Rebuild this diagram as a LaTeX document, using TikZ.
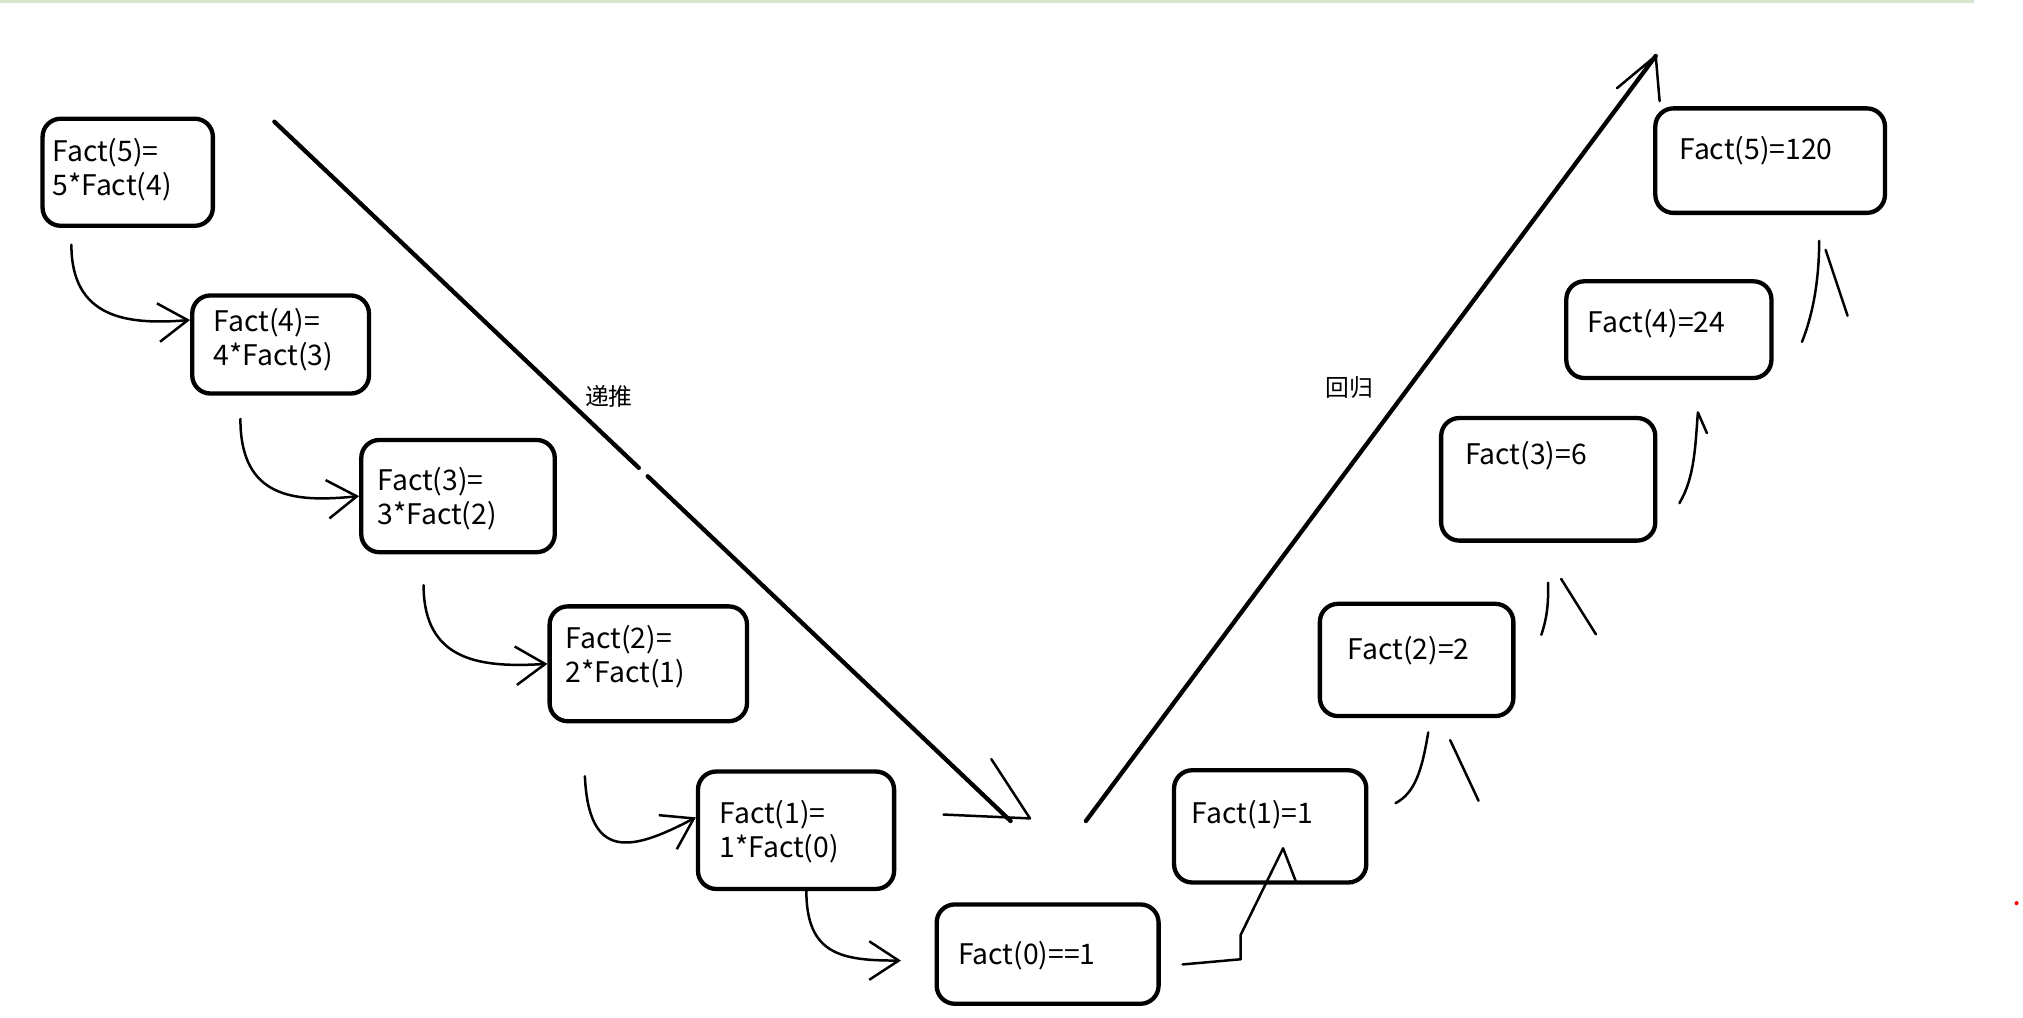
\documentclass[tikz,border=0pt]{standalone}
\usepackage{fontspec}
\setmainfont{Noto Sans CJK SC}
\usetikzlibrary{arrows.meta,calc}
\definecolor{topline}{RGB}{214,230,204}
\tikzset{
  box/.style={draw, line width=1.9pt, rounded corners=8pt, inner sep=0pt},
  sz/.style 2 args={minimum width=#1*0.02cm, minimum height=#2*0.02cm},
  lbl/.style={inner sep=0pt, font=\fontsize{12.5}{15}\selectfont, align=left},
  conn/.style={line width=1.1pt, line cap=round, line join=round},
  tipb/.style={-{Straight Barb[length=13pt,width=17pt]}},
  longln/.style={line width=1.9pt, line cap=round},
  cjk/.style={inner sep=0pt, font=\fontsize{10.5}{12}\selectfont}}
\begin{document}
\begin{tikzpicture}[x=0.02cm,y=-0.02cm]
\useasboundingbox (0,0) rectangle (1568,789);
\fill[white] (0,0) rectangle (1568,789);
\draw[topline, line width=1.2pt] (0,1) -- (1530,1);
\fill[red] (1563,700) circle (1.6);

% left boxes
\node[box,sz={132}{83}] (l5) at (99,133.5) {};
\node[box,sz={137}{76}] (l4) at (217.5,267) {};
\node[box,sz={150}{87}] (l3) at (355,384.5) {};
\node[box,sz={153}{89}] (l2) at (502.5,514.5) {};
\node[box,sz={152}{91}] (l1) at (617,643.5) {};
\node[box,sz={172}{77}] (b0) at (812,739.5) {};
% right boxes
\node[box,sz={149}{87}] (r1) at (984.5,640.5) {};
\node[box,sz={150}{87}] (r2) at (1098,511.5) {};
\node[box,sz={166}{95}] (r3) at (1200,371.5) {};
\node[box,sz={159}{75}] (r4) at (1293.5,255.5) {};
\node[box,sz={178}{81}] (r5) at (1372,124.5) {};

% texts (base anchor = baseline of the last line)
\node[lbl,anchor=base west] (t5) at ($(l5.north west)+(9,61)$) {Fact(5)=\\5*Fact(4)};
\node[lbl,anchor=base west] (t4) at ($(l4.north west)+(18,56)$) {Fact(4)=\\4*Fact(3)};
\node[lbl,anchor=base west] (t3) at ($(l3.north west)+(14,67)$) {Fact(3)=\\3*Fact(2)};
\node[lbl,anchor=base west] (t2) at ($(l2.north west)+(14,61)$) {Fact(2)=\\2*Fact(1)};
\node[lbl,anchor=base west] (t1) at ($(l1.north west)+(18,68)$) {Fact(1)=\\1*Fact(0)};
\node[lbl,anchor=base west] (t0) at ($(b0.north west)+(18,48)$) {Fact(0)==1};
\node[lbl,anchor=base west] (s1) at ($(r1.north west)+(15,43)$) {Fact(1)=1};
\node[lbl,anchor=base west] (s2) at ($(r2.north west)+(23,45)$) {Fact(2)=2};
\node[lbl,anchor=base west] (s3) at ($(r3.north west)+(20,38)$) {Fact(3)=6};
\node[lbl,anchor=base west] (s4) at ($(r4.north west)+(18,41)$) {Fact(4)=24};
\node[lbl,anchor=base west] (s5) at ($(r5.north west)+(20,41)$) {Fact(5)=120};

% left connectors
\draw[conn,tipb] ($(l5.south west)+(24,13)$) .. controls +(0,57) and +(-49,4) .. ($(l4.west)+(0,-19)$);
\draw[conn,tipb] ($(l4.south west)+(39,18)$) .. controls +(0,62) and +(-50,5) .. (l3.west);
\draw[conn,tipb] ($(l3.south west)+(50,24)$) .. controls +(0,60) and +(-50,3) .. (l2.west);
\draw[conn,tipb] ($(l2.south west)+(29,41)$) .. controls +(3,65) and +(-51,27) .. ($(l1.west)+(0,-10)$);
\draw[conn,tipb] ($(l1.south)+(8,0)$) .. controls +(0,50) and +(-45,0) .. ($(b0.west)+(-26,5)$);

% right connectors
\draw[conn] ($(b0.east)+(17,8)$) -- ++(45,-4) -- ++(0,-19) -- ($(r1.center)+(10,17)$) -- ++(10,26);
\draw[conn] ($(r1.east)+(21,-18)$) .. controls +(15,-8) and +(-5,30) .. ($(r2.south)+(9,11)$) ++(17,6) -- ++(22,47);
\draw[conn] ($(r2.east)+(20,-19.5)$) .. controls +(5,-15) and +(0,15) .. ($(r3.south)+(0,31)$) ++(10,-3) -- ++(27,43);
\draw[conn] ($(r3.east)+(17,18.5)$) .. controls +(12,-20) and +(-2,25) .. ($(r4.south)+(22.5,25)$) -- ++(7,16);
\draw[conn] ($(r4.east)+(22,9.5)$) .. controls +(10,-25) and +(0,25) .. ($(r5.south)+(38,20)$) ++(5,7) -- ++(17,51);

% long lines
\coordinate (dS) at ($(l5.north east)+(46,4)$);
\coordinate (dE) at ($(b0.north west)+(59,-63)$);
\draw[longln] (dS) -- ($(dS)!0.495!(dE)$);
\draw[longln] ($(dS)!0.507!(dE)$) -- (dE);
\draw[conn] ($(dE)+(-52,-5)$) -- ($(dE)+(15,-2)$) -- ($(dE)+(-15,-48)$);
\node[cjk] (dl) at (472,307) {递推};

\coordinate (uS) at ($(b0.north east)+(-58,-63)$);
\coordinate (uE) at ($(r5.north west)+(2,-39)$);
\draw[longln] (uS) -- (uE);
\draw[conn] ($(uE)+(-30,25)$) -- (uE) -- ++(3,35);
\node[cjk] (ul) at (1046,300) {回归};
\end{tikzpicture}
\end{document}
